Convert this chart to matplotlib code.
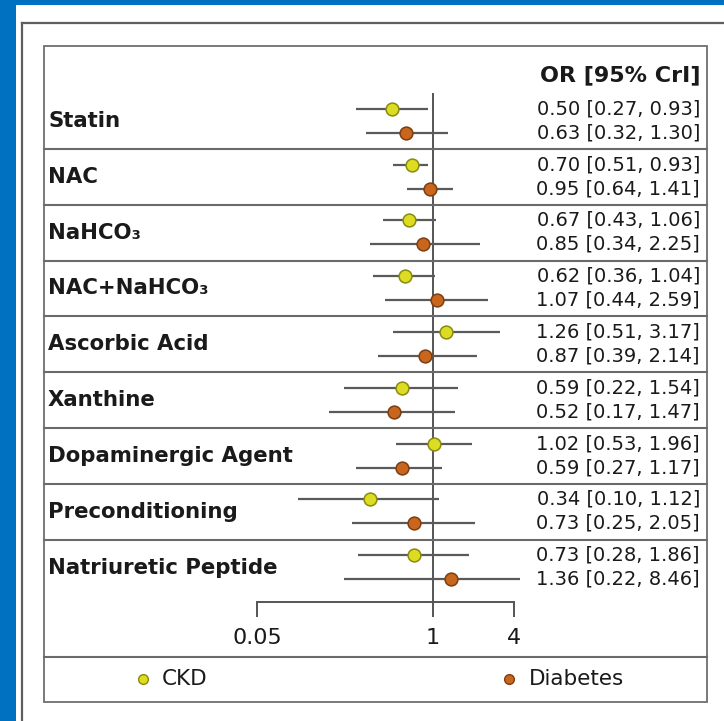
import numpy as np
import matplotlib
matplotlib.use("Agg")
import matplotlib.pyplot as plt
from matplotlib.lines import Line2D
from matplotlib.patches import Rectangle
from matplotlib.ticker import NullLocator, FixedLocator, FixedFormatter
import matplotlib.transforms as mtransforms

# ---------------- data ----------------
categories = ["Statin", "NAC", "NaHCO\u2083", "NAC+NaHCO\u2083", "Ascorbic Acid",
              "Xanthine", "Dopaminergic Agent", "Preconditioning", "Natriuretic Peptide"]
ckd_or = [0.50, 0.70, 0.67, 0.62, 1.26, 0.59, 1.02, 0.34, 0.73]
ckd_lo = [0.27, 0.51, 0.43, 0.36, 0.51, 0.22, 0.53, 0.10, 0.28]
ckd_hi = [0.93, 0.93, 1.06, 1.04, 3.17, 1.54, 1.96, 1.12, 1.86]
dm_or = [0.63, 0.95, 0.85, 1.07, 0.87, 0.52, 0.59, 0.73, 1.36]
dm_lo = [0.32, 0.64, 0.34, 0.44, 0.39, 0.17, 0.27, 0.25, 0.22]
dm_hi = [1.30, 1.41, 2.25, 2.59, 2.14, 1.47, 1.17, 2.05, 8.46]
series_names = ["CKD", "Diabetes"]
xtick_values = [0.05, 1, 4]
xtick_labels = ["0.05", "1", "4"]
header = "OR [95% CrI]"

# ---------------- layout ----------------
W, H = 724, 721
plt.rcParams['font.family'] = ['DejaVu Sans']
fig = plt.figure(figsize=(W / 100, H / 100), dpi=100)
fig.patch.set_facecolor('white')

def fx(px):
    return px / W

def fy(py):
    return 1 - py / H

BLUE = '#0070c0'
FRAME = '#5e5e5e'
GRID = '#6a6a6a'
TXT = '#1a1a1a'
CKD_FC, CKD_EC = '#dcdc22', '#8a8a10'
DM_FC, DM_EC = '#c8661e', '#7e3e12'

# blue border strips
fig.add_artist(Rectangle((0, 0), fx(16), 1, transform=fig.transFigure,
                         color=BLUE, lw=0, zorder=0))
fig.add_artist(Rectangle((0, fy(5)), 1, 5 / H, transform=fig.transFigure,
                         color=BLUE, lw=0, zorder=0))
# outer frame (cut at right/bottom)
fig.add_artist(Line2D([fx(22), 1.0], [fy(23), fy(23)], transform=fig.transFigure,
                      color=FRAME, lw=1.6))
fig.add_artist(Line2D([fx(22), fx(22)], [fy(23), 0.0], transform=fig.transFigure,
                      color=FRAME, lw=1.6))
# inner panel
fig.add_artist(Rectangle((fx(44), fy(702)), (707 - 44) / W, (702 - 46) / H,
                         transform=fig.transFigure, fill=False, ec='#6e6e6e', lw=1.3))

# data axes
X1_PX, PX_PER_LN = 432.7, 58.5
AX_L, AX_R = 250, 520
ROW_TOP, ROW_PX, AX_BOTTOM = 93.2, 55.8, 602
ax = fig.add_axes([fx(AX_L), fy(AX_BOTTOM), (AX_R - AX_L) / W, (AX_BOTTOM - ROW_TOP) / H])
ax.set_facecolor('none')
ax.set_xscale('log')
ax.set_xlim(np.exp(-(X1_PX - AX_L) / PX_PER_LN), np.exp((AX_R - X1_PX) / PX_PER_LN))
ax.set_ylim((AX_BOTTOM - ROW_TOP) / ROW_PX, 0)
for s in ['top', 'left', 'right']:
    ax.spines[s].set_visible(False)
ax.spines['bottom'].set_bounds(xtick_values[0], xtick_values[-1])
ax.spines['bottom'].set_color('#555555')
ax.spines['bottom'].set_linewidth(1.4)
ax.xaxis.set_major_locator(FixedLocator(xtick_values))
ax.xaxis.set_major_formatter(FixedFormatter(xtick_labels))
ax.xaxis.set_minor_locator(NullLocator())
ax.tick_params(axis='x', length=10.8, width=1.4, color='#555555', direction='out',
               labelsize=16, pad=8, labelcolor=TXT)
ax.set_yticks([])

ax.axvline(1, color='#555555', lw=1.4, zorder=1)

n = len(categories)
rows = np.arange(n)
y_ckd = rows + 0.28
y_dm = rows + 0.71

ax.hlines(y_ckd, ckd_lo, ckd_hi, color='#5a5a5a', lw=1.6, zorder=2)
ax.hlines(y_dm, dm_lo, dm_hi, color='#5a5a5a', lw=1.6, zorder=2)
ax.plot(ckd_or, y_ckd, 'o', ms=9.2, mfc=CKD_FC, mec=CKD_EC, mew=1.1, zorder=3)
ax.plot(dm_or, y_dm, 'o', ms=9.2, mfc=DM_FC, mec=DM_EC, mew=1.1, zorder=3)

blend = mtransforms.blended_transform_factory(fig.transFigure, ax.transData)
for i in range(1, n):
    ax.plot([fx(44), fx(707)], [i, i], transform=blend, color=GRID, lw=1.5,
            clip_on=False, zorder=1)

for i, cat in enumerate(categories):
    ax.text(fx(48), i + 0.5, cat, transform=blend, ha='left', va='center',
            fontsize=15.3, fontweight='bold', color=TXT)
    ax.text(fx(700), y_ckd[i], f"{ckd_or[i]:.2f} [{ckd_lo[i]:.2f}, {ckd_hi[i]:.2f}]",
            transform=blend, ha='right', va='center', fontsize=14, color=TXT)
    ax.text(fx(700), y_dm[i], f"{dm_or[i]:.2f} [{dm_lo[i]:.2f}, {dm_hi[i]:.2f}]",
            transform=blend, ha='right', va='center', fontsize=14, color=TXT)

fig.text(fx(700), fy(75), header, ha='right', va='center', fontsize=16,
         fontweight='bold', color=TXT)

# legend row
fig.add_artist(Line2D([fx(44), fx(707)], [fy(657), fy(657)], transform=fig.transFigure,
                      color=GRID, lw=1.5))
fig.add_artist(Line2D([fx(143)], [fy(679)], transform=fig.transFigure, marker='o',
                      ms=7, mfc=CKD_FC, mec=CKD_EC, mew=1.0, ls='none'))
fig.text(fx(162), fy(679), series_names[0], ha='left', va='center', fontsize=15.5, color=TXT)
fig.add_artist(Line2D([fx(509)], [fy(679)], transform=fig.transFigure, marker='o',
                      ms=7, mfc=DM_FC, mec=DM_EC, mew=1.0, ls='none'))
fig.text(fx(529), fy(679), series_names[1], ha='left', va='center', fontsize=15.5, color=TXT)

fig.savefig('out.png', dpi=100)
